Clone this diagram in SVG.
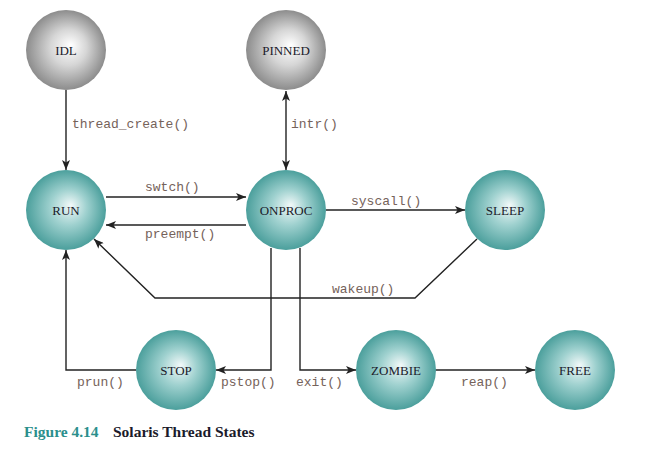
<svg xmlns="http://www.w3.org/2000/svg" width="653" height="453" viewBox="0 0 653 453">
<defs>
<radialGradient id="teal" cx="0.5" cy="0.5" r="0.5" fx="0.56" fy="0.44">
<stop offset="0" stop-color="#f2f9f9"/>
<stop offset="0.45" stop-color="#9fd1cf"/>
<stop offset="1" stop-color="#4b9f9c"/>
</radialGradient>
<radialGradient id="gray" cx="0.5" cy="0.5" r="0.5" fx="0.56" fy="0.44">
<stop offset="0" stop-color="#ffffff"/>
<stop offset="0.45" stop-color="#d6d6d6"/>
<stop offset="1" stop-color="#8c8c8c"/>
</radialGradient>
<marker id="ah" viewBox="0 0 10 8" refX="10" refY="4" markerWidth="10" markerHeight="8" markerUnits="userSpaceOnUse" orient="auto-start-reverse">
<path d="M0,0 L10,4 L0,8 L2.5,4 Z" fill="#222"/>
</marker>
<style>
.t{fill:url(#teal)}
.g{fill:url(#gray)}
.nl{font-family:"Liberation Serif",serif;font-size:13px;fill:#1b1b2b;text-anchor:middle}
.el{font-family:"Liberation Mono",monospace;font-size:13px;fill:#75625a}
.c{fill:none;stroke:#222;stroke-width:1.4}
.cap{font-family:"Liberation Serif",serif;font-size:15.5px;font-weight:bold}
</style>
</defs>
<g id="connectors">
<path class="c" d="M66,90 V170" marker-end="url(#ah)"/>
<path class="c" d="M286,91 V170" marker-start="url(#ah)" marker-end="url(#ah)"/>
<path class="c" d="M106,197 H246" marker-end="url(#ah)"/>
<path class="c" d="M246,225 H106" marker-end="url(#ah)"/>
<path class="c" d="M326,210 H465" marker-end="url(#ah)"/>
<path class="c" d="M477,239 L415,298 H155 L94,239" marker-end="url(#ah)"/>
<path class="c" d="M271,248 V370 H216" marker-end="url(#ah)"/>
<path class="c" d="M300,248 V370 H356" marker-end="url(#ah)"/>
<path class="c" d="M136,370 H66 V250" marker-end="url(#ah)"/>
<path class="c" d="M435,370 H535" marker-end="url(#ah)"/>
<text class="el" x="72" y="128">thread_create()</text>
<text class="el" x="291" y="128">intr()</text>
<text class="el" x="145" y="191">swtch()</text>
<text class="el" x="145" y="238">preempt()</text>
<text class="el" x="351" y="205">syscall()</text>
<text class="el" x="332" y="293">wakeup()</text>
<text class="el" x="77" y="386">prun()</text>
<text class="el" x="221" y="386">pstop()</text>
<text class="el" x="296" y="386">exit()</text>
<text class="el" x="461" y="386">reap()</text>
</g>
<g id="IDL"><circle class="g" cx="66" cy="50" r="40"/><text class="nl" x="66" y="55">IDL</text></g>
<g id="PINNED"><circle class="g" cx="286" cy="50" r="40"/><text class="nl" x="286" y="55">PINNED</text></g>
<g id="RUN"><circle class="t" cx="66" cy="210" r="40"/><text class="nl" x="66" y="215">RUN</text></g>
<g id="ONPROC"><circle class="t" cx="286" cy="210" r="40"/><text class="nl" x="286" y="215">ONPROC</text></g>
<g id="SLEEP"><circle class="t" cx="505" cy="210" r="40"/><text class="nl" x="505" y="215">SLEEP</text></g>
<g id="STOP"><circle class="t" cx="176" cy="370" r="40"/><text class="nl" x="176" y="375">STOP</text></g>
<g id="ZOMBIE"><circle class="t" cx="396" cy="370" r="40"/><text class="nl" x="396" y="375">ZOMBIE</text></g>
<g id="FREE"><circle class="t" cx="575" cy="370" r="40"/><text class="nl" x="575" y="375">FREE</text></g>
<g id="caption">
<text class="cap" x="24" y="437" fill="#2b8f8c">Figure 4.14</text>
<text class="cap" x="113" y="437" fill="#1b1b2b">Solaris Thread States</text>
</g>
</svg>
